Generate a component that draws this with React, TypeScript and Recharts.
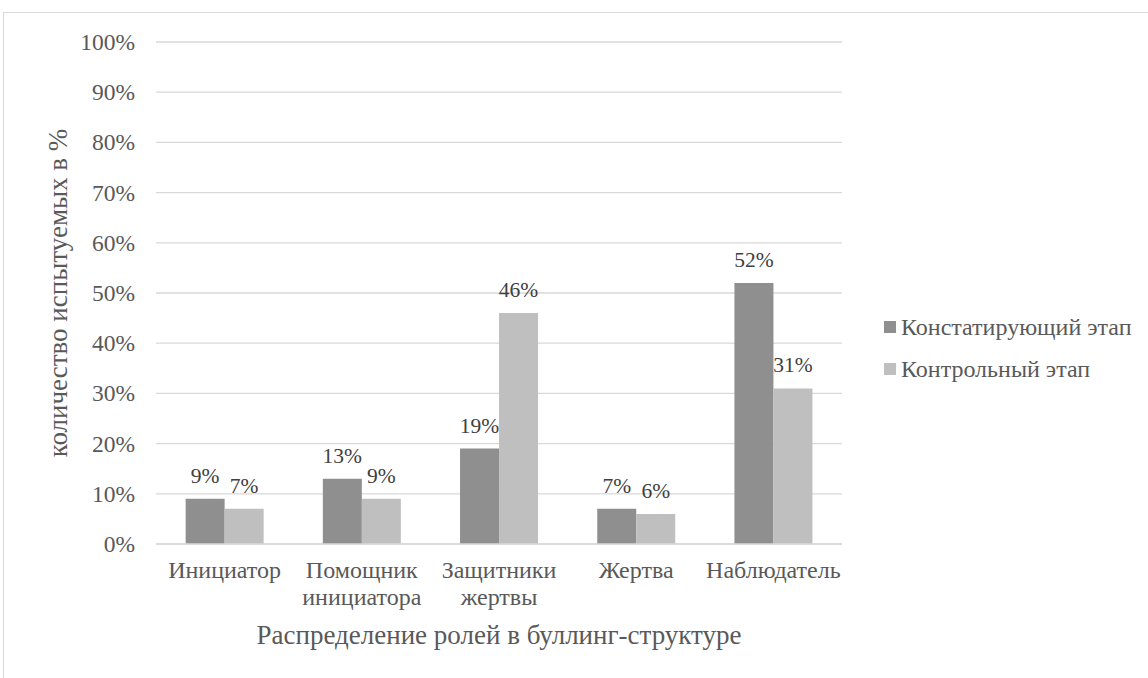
import React from 'react'
import { BarChart, Bar, XAxis, YAxis, CartesianGrid, LabelList } from 'recharts'

const categories = ['Инициатор', 'Помощник\nинициатора', 'Защитники\nжертвы', 'Жертва', 'Наблюдатель']
const stating = [9, 13, 19, 7, 52]
const control = [7, 9, 46, 6, 31]
const yTicks = [0, 10, 20, 30, 40, 50, 60, 70, 80, 90, 100]

const data = categories.map((name, i) => ({ name, stating: stating[i], control: control[i] }))

const FONT = '"Liberation Serif", "Times New Roman", serif'
const TEXT = '#595959'
const DARK = '#8f8f8f'
const LIGHT = '#bfbfbf'

function CategoryTick(props: any) {
  const { x, y, payload } = props
  const lines = String(payload.value).split('\n')
  return (
    <text x={x} y={y + 26} textAnchor="middle" fill={TEXT} fontFamily={FONT} fontSize={24}>
      {lines.map((l, i) => (
        <tspan key={i} x={x} dy={i === 0 ? 0 : 27}>
          {l}
        </tspan>
      ))}
    </text>
  )
}

function PercentTick(props: any) {
  const { x, y, payload } = props
  return (
    <text x={x} y={y} dy={8} textAnchor="end" fill={TEXT} fontFamily={FONT} fontSize={23.5}>
      {`${payload.value}%`}
    </text>
  )
}

const legendItems = [
  { label: 'Констатирующий этап', color: DARK },
  { label: 'Контрольный этап', color: LIGHT },
]

export default function App() {
  return (
    <div style={{ position: 'absolute', left: 0, top: 0, width: 1148, height: 678, background: '#fff', overflow: 'hidden' }}>
      <div
        style={{
          position: 'absolute',
          left: 3,
          top: 12,
          width: 1160,
          height: 700,
          borderTop: '1.5px solid #d9d9d9',
          borderLeft: '1.5px solid #d9d9d9',
        }}
      />
      <BarChart
        width={1148}
        height={678}
        data={data}
        margin={{ top: 42, right: 306, bottom: 0, left: 14 }}
        barCategoryGap="21.6%"
        barGap={0}
        style={{ position: 'absolute', left: 0, top: 0, fontFamily: FONT }}
      >
        <CartesianGrid vertical={false} stroke="#d9d9d9" strokeWidth={1.3} />
        <XAxis
          dataKey="name"
          axisLine={{ stroke: '#d9d9d9', strokeWidth: 1.3 }}
          tickLine={false}
          tick={<CategoryTick />}
          interval={0}
          height={134}
          label={{
            value: 'Распределение ролей в буллинг-структуре',
            position: 'insideBottom',
            offset: 34,
            fill: TEXT,
            fontSize: 27,
            fontFamily: FONT,
          }}
        />
        <YAxis
          width={142}
          domain={[0, 100]}
          ticks={yTicks}
          axisLine={false}
          tickLine={false}
          tick={<PercentTick />}
          tickMargin={15}
          label={{
            value: 'количество испытуемых в %',
            angle: -90,
            position: 'insideLeft',
            offset: 43,
            style: { textAnchor: 'middle' },
            fill: TEXT,
            fontSize: 27,
            fontFamily: FONT,
          }}
        />
        <Bar dataKey="stating" name="Констатирующий этап" fill={DARK} isAnimationActive={false}>
          <LabelList
            dataKey="stating"
            position="top"
            offset={16}
            formatter={(v: number) => `${v}%`}
            fill="#404040"
            fontSize={21.5}
            fontFamily={FONT}
          />
        </Bar>
        <Bar dataKey="control" name="Контрольный этап" fill={LIGHT} isAnimationActive={false}>
          <LabelList
            dataKey="control"
            position="top"
            offset={16}
            formatter={(v: number) => `${v}%`}
            fill="#404040"
            fontSize={21.5}
            fontFamily={FONT}
          />
        </Bar>
      </BarChart>
      <div style={{ position: 'absolute', left: 884, top: 306, fontFamily: FONT, fontSize: 24, color: TEXT }}>
        {legendItems.map((it) => (
          <div key={it.label} style={{ display: 'flex', alignItems: 'center', height: 42, whiteSpace: 'nowrap' }}>
            <span style={{ display: 'inline-block', width: 12, height: 12, background: it.color, marginRight: 5 }} />
            {it.label}
          </div>
        ))}
      </div>
    </div>
  )
}
